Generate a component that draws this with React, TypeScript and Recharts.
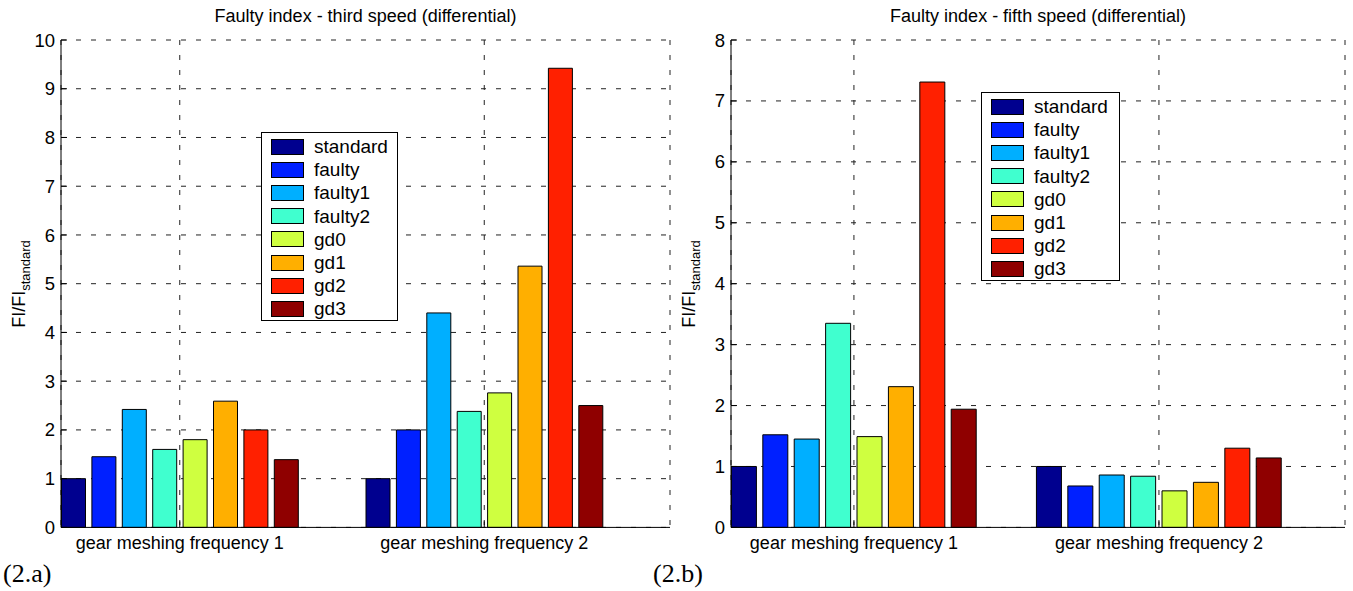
import React from 'react';
import { BarChart, Bar, XAxis, YAxis, CartesianGrid, Legend } from 'recharts';

const FONT = '"Liberation Sans", Arial, Helvetica, sans-serif';
const SERIF = '"Liberation Serif", "Times New Roman", serif';

const seriesNames = ['standard', 'faulty', 'faulty1', 'faulty2', 'gd0', 'gd1', 'gd2', 'gd3'];
const seriesColors = ['#00008F', '#0020FF', '#00AFFF', '#40FFCF', '#CFFF40', '#FFAF00', '#FF2000', '#8F0000'];

const categoryPositions = [1, 2];
const categoryLabels = ['gear meshing frequency 1', 'gear meshing frequency 2'];

// Faulty index - third speed (differential)
const thirdSpeedGmf1 = [1.0, 1.45, 2.42, 1.6, 1.8, 2.59, 2.0, 1.39];
const thirdSpeedGmf2 = [1.0, 2.0, 4.4, 2.38, 2.76, 5.36, 9.42, 2.5];
const thirdSpeedTicks = [0, 1, 2, 3, 4, 5, 6, 7, 8, 9, 10];

// Faulty index - fifth speed (differential)
const fifthSpeedGmf1 = [1.0, 1.52, 1.45, 3.35, 1.49, 2.31, 7.31, 1.94];
const fifthSpeedGmf2 = [1.0, 0.68, 0.86, 0.84, 0.6, 0.74, 1.3, 1.14];
const fifthSpeedTicks = [0, 1, 2, 3, 4, 5, 6, 7, 8];

function buildRows(groups: number[][]) {
  return categoryPositions.map((x, i) => {
    const row: Record<string, number> = { x };
    seriesNames.forEach((n, j) => {
      row[n] = groups[i][j];
    });
    return row;
  });
}

const thirdRows = buildRows([thirdSpeedGmf1, thirdSpeedGmf2]);
const fifthRows = buildRows([fifthSpeedGmf1, fifthSpeedGmf2]);

const LegendBox = (props: any) => {
  const payload = [...(props.payload || [])].sort(
    (a: any, b: any) => seriesNames.indexOf(a.value) - seriesNames.indexOf(b.value)
  );
  return (
    <div
      style={{
        border: '1px solid #000',
        background: '#fff',
        boxSizing: 'border-box',
        width: props.boxWidth,
        height: 189,
        paddingTop: 2,
        fontFamily: FONT,
        fontSize: 19,
        color: '#000',
      }}
    >
      {payload.map((p: any) => (
        <div key={p.value} style={{ display: 'flex', alignItems: 'center', height: 23.2 }}>
          <div
            style={{
              width: 33,
              height: 16,
              background: p.color,
              border: '1px solid #000',
              boxSizing: 'border-box',
              marginLeft: 9,
              flexShrink: 0,
            }}
          />
          <span style={{ marginLeft: 10, lineHeight: '23.2px', whiteSpace: 'nowrap' }}>{p.value}</span>
        </div>
      ))}
    </div>
  );
};

type PanelProps = {
  data: Record<string, number>[];
  width: number;
  xDomain: [number, number];
  yDomain: [number, number];
  yTicks: number[];
  yAxisWidth: number;
  marginRight: number;
  barSize: number;
  barGap: number;
  legendX: number;
  legendY: number;
  legendW: number;
};

function Panel(p: PanelProps) {
  const xTickStyle = { fill: '#000', fontSize: 18, fontFamily: FONT };
  const yTickStyle = { fill: '#000', fontSize: 18.5, fontFamily: FONT };
  return (
    <BarChart
      width={p.width}
      height={591}
      data={p.data}
      margin={{ top: 40, right: p.marginRight, bottom: 33.6, left: 0 }}
      barSize={p.barSize}
      barGap={p.barGap}
    >
      <CartesianGrid stroke="#222" strokeDasharray="5 10" />
      <XAxis
        dataKey="x"
        type="number"
        domain={p.xDomain}
        ticks={categoryPositions}
        interval={0}
        allowDataOverflow
        tickFormatter={(v: number) => categoryLabels[categoryPositions.indexOf(v)] ?? ''}
        height={30}
        tickSize={-6}
        tickMargin={15}
        stroke="#000"
        tick={xTickStyle}
      />
      <XAxis
        xAxisId="top"
        orientation="top"
        dataKey="x"
        type="number"
        domain={p.xDomain}
        ticks={categoryPositions}
        interval={0}
        allowDataOverflow
        tickFormatter={() => ''}
        height={0}
        tickSize={-6}
        stroke="#000"
      />
      <YAxis
        type="number"
        domain={p.yDomain}
        ticks={p.yTicks}
        interval={0}
        width={p.yAxisWidth}
        tickSize={-6}
        tickMargin={12}
        stroke="#000"
        tick={yTickStyle}
      />
      <YAxis
        yAxisId="right"
        orientation="right"
        type="number"
        domain={p.yDomain}
        ticks={p.yTicks}
        interval={0}
        width={0}
        tickSize={-6}
        tickFormatter={() => ''}
        stroke="#000"
      />
      <Legend
        layout="vertical"
        align="center"
        verticalAlign="middle"
        wrapperStyle={{ left: p.legendX, top: p.legendY, width: p.legendW, margin: 0 }}
        content={(lp: any) => <LegendBox {...lp} boxWidth={p.legendW} />}
      />
      {seriesNames.map((n, i) => (
        <Bar
          key={n}
          dataKey={n}
          name={n}
          fill={seriesColors[i]}
          stroke="#000"
          strokeWidth={1}
          isAnimationActive={false}
        />
      ))}
    </BarChart>
  );
}

function YLabel({ x, y }: { x: number; y: number }) {
  return (
    <text transform={`translate(${x},${y}) rotate(-90)`} textAnchor="middle" fontFamily={FONT} fill="#000">
      <tspan fontSize={18}>FI/FI</tspan>
      <tspan fontSize={13} dy={5}>standard</tspan>
    </text>
  );
}

export default function App() {
  return (
    <div style={{ position: 'absolute', left: 0, top: 0, width: 1353, height: 591, background: '#fff', overflow: 'hidden' }}>
      <div style={{ position: 'absolute', left: 0, top: 0 }}>
        <Panel
          data={thirdRows}
          width={676}
          xDomain={[0.61, 2.61]}
          yDomain={[0, 10]}
          yTicks={thirdSpeedTicks}
          yAxisWidth={61}
          marginRight={6}
          barSize={24}
          barGap={6.4}
          legendX={261}
          legendY={132}
          legendW={137}
        />
      </div>
      <div style={{ position: 'absolute', left: 676, top: 0 }}>
        <Panel
          data={fifthRows}
          width={677}
          xDomain={[0.597, 2.61]}
          yDomain={[0, 8]}
          yTicks={fifthSpeedTicks}
          yAxisWidth={55}
          marginRight={8}
          barSize={25}
          barGap={6.4}
          legendX={305}
          legendY={92}
          legendW={139}
        />
      </div>
      <svg
        width={1353}
        height={591}
        style={{ position: 'absolute', left: 0, top: 0, pointerEvents: 'none' }}
      >
        <text x={365.5} y={22} textAnchor="middle" fontFamily={FONT} fontSize={18} fill="#000">
          Faulty index - third speed (differential)
        </text>
        <text x={1038} y={22} textAnchor="middle" fontFamily={FONT} fontSize={18} fill="#000">
          Faulty index - fifth speed (differential)
        </text>
        <YLabel x={25} y={284} />
        <YLabel x={695} y={284} />
        <text x={3} y={582} fontFamily={SERIF} fontSize={26} fill="#000">(2.a)</text>
        <text x={653} y={582} fontFamily={SERIF} fontSize={26} fill="#000">(2.b)</text>
      </svg>
    </div>
  );
}
